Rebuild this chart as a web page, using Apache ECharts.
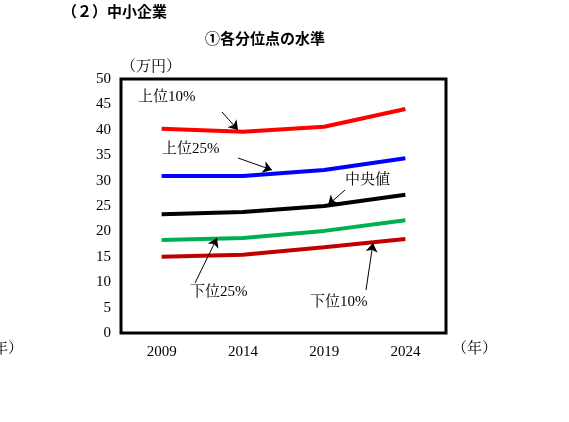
<!DOCTYPE html><html><head><meta charset="utf-8"><script src="https://cdn.jsdelivr.net/npm/echarts@6/dist/echarts.min.js"></script></head><body style="margin:0"><div id="c" style="width:569px;height:422px"></div><script>
const years=['2009','2014','2019','2024'];
const top10=[40.2,39.6,40.6,44.1];
const top25=[30.9,30.9,32.1,34.4];
const median=[23.4,23.8,25.0,27.2];
const low25=[18.3,18.7,20.1,22.2];
const low10=[15.0,15.4,16.9,18.5];
const yTicks=[0,5,10,15,20,25,30,35,40,45,50];
const F='"Liberation Serif","Noto Serif CJK JP","Noto Sans CJK JP",serif';
const chart=echarts.init(document.getElementById('c'));
function s(d,c){return {type:'line',data:d,symbol:'none',lineStyle:{color:c,width:4},silent:true};}
function arr(x1,y1,x2,y2){return [{x:x1,y:y1,symbol:'none'},{x:x2,y:y2,symbol:'arrow',symbolSize:9}];}
chart.setOption({
 animation:false,
 grid:{left:121,top:79,width:325,height:254,show:true,borderColor:'#000',borderWidth:3},
 xAxis:{type:'category',data:years,axisLine:{show:false},axisTick:{show:false},axisLabel:{color:'#000',fontFamily:F,fontSize:15,margin:12}},
 yAxis:{type:'value',min:0,max:50,interval:5,axisLine:{show:false},axisTick:{show:false},splitLine:{show:false},axisLabel:{color:'#000',fontFamily:F,fontSize:15,margin:10}},
 series:[s(top10,'#ff0000'),s(top25,'#0000ff'),s(median,'#000000'),s(low25,'#00b050'),s(low10,'#c00000'),
 {type:'line',data:[],markLine:{silent:true,animation:false,label:{show:false},lineStyle:{color:'#000',width:1,type:'solid'},
  data:[arr(222,112,238,130),arr(238,158,272,170),arr(345,190,328,205),arr(195,283,217,238),arr(366,290,373,243)]}}],
 graphic:[
  {type:'text',left:62,top:4,style:{text:'（２）中小企業',font:'bold 15px "Noto Sans CJK JP"',fill:'#000'}},
  {type:'text',left:205,top:31,style:{text:'①各分位点の水準',font:'bold 15px "Noto Sans CJK JP"',fill:'#000'}},
  {type:'text',left:121,top:60,style:{text:'（万円）',font:'15px '+F,fill:'#000'}},
  {type:'text',left:452,top:342,style:{text:'（年）',font:'15px '+F,fill:'#000'}},
  {type:'text',left:-22,top:342,style:{text:'（年）',font:'15px '+F,fill:'#000'}},
  {type:'text',left:138,top:90,style:{text:'上位10%',font:'15px '+F,fill:'#000'}},
  {type:'text',left:162,top:142,style:{text:'上位25%',font:'15px '+F,fill:'#000'}},
  {type:'text',left:345,top:173,style:{text:'中央値',font:'15px '+F,fill:'#000'}},
  {type:'text',left:190,top:285,style:{text:'下位25%',font:'15px '+F,fill:'#000'}},
  {type:'text',left:310,top:295,style:{text:'下位10%',font:'15px '+F,fill:'#000'}}
 ]
});
</script></body></html>
